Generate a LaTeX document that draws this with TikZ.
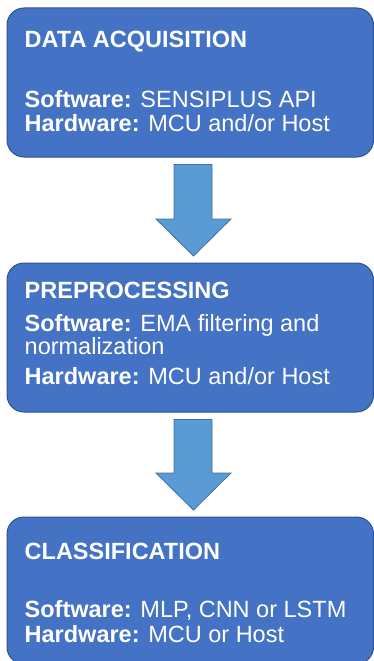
\documentclass[tikz,border=0pt]{standalone}
\usepackage{fontspec}
\setmainfont{Liberation Sans}
\usetikzlibrary{positioning,calc}
\definecolor{boxblue}{HTML}{4472C4}
\definecolor{boxline}{HTML}{2F528F}
\definecolor{arrowblue}{HTML}{5B9BD5}
\definecolor{arrowline}{HTML}{41719C}

\begin{document}
\begin{tikzpicture}[x=1pt, y=-1pt,
   stage/.style={draw=boxline, fill=boxblue, line width=1pt, rounded corners=17pt,
                 minimum width=366.5pt, inner sep=0pt},
   stagetext/.style={anchor=north west, inner sep=0pt, text=white, align=left,
                 font=\fontsize{23.5}{24}\selectfont},
   blockarrow/.style={draw=arrowline, fill=arrowblue, line width=0.8pt, line join=miter}]

\useasboundingbox (0,0) rectangle (374,661);

% the three stages
\node[stage, minimum height=149pt] (acq) at (190.25,82.5) {};
\node[stage, minimum height=149pt] (pre) at (190.25,337.5) {};
\node[stage, minimum height=147pt] (cls) at (190.25,590.5) {};

\node[stagetext] (acqtext) at ($(acq.north west)+(18,23)$)
    {\textbf{DATA ACQUISITION}\\[36pt]
     \textbf{Software:} SENSIPLUS API\\
     \textbf{Hardware:} MCU and/or Host};
\node[stagetext] (pretext) at ($(pre.north west)+(18,19)$)
    {\textbf{PREPROCESSING}\\[9pt]
     \textbf{Software:} EMA filtering and\\[-1pt]
     normalization\\[6pt]
     \textbf{Hardware:} MCU and/or Host};
\node[stagetext] (clstext) at ($(cls.north west)+(18,26)$)
    {\textbf{CLASSIFICATION}\\[34pt]
     \textbf{Software:} MLP, CNN or LSTM\\[1pt]
     \textbf{Hardware:} MCU or Host};

% block arrows between stages
\foreach \a/\b in {acq/pre, pre/cls}
  \draw[blockarrow] ($(\a.south)+(-16.25,7)$) -- ($(\a.south)+(21.75,7)$)
     -- ($(\b.north)+(21.75,-43.5)$) -- ($(\b.north)+(40.75,-43.5)$)
     -- ($(\b.north)+(3.25,-6.5)$)
     -- ($(\b.north)+(-34.25,-43.5)$) -- ($(\b.north)+(-16.25,-43.5)$) -- cycle;

\end{tikzpicture}
\end{document}
